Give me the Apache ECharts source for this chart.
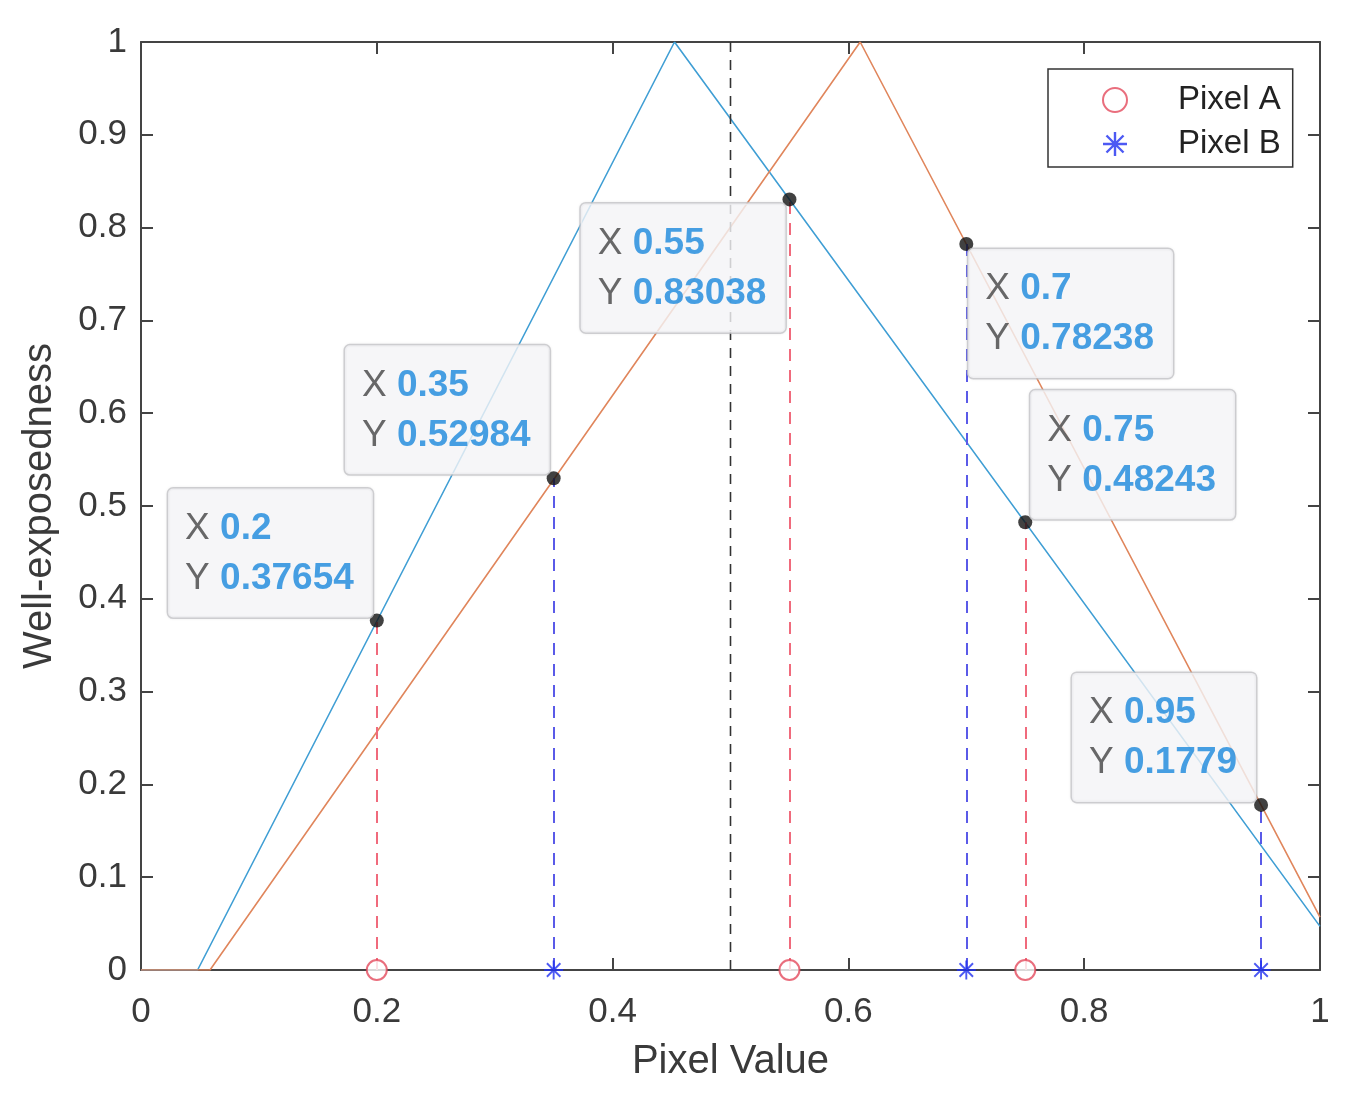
<!DOCTYPE html>
<html>
<head>
<meta charset="utf-8">
<script src="https://cdn.jsdelivr.net/npm/echarts@6/dist/echarts.min.js"></script>
<style>html,body{margin:0;padding:0;background:#fff}#c{width:1368px;height:1104px}</style>
</head>
<body>
<div id="c"></div>
<script>
// ---- data ----
const curveAX = [0, 0.048, 0.4525, 1];
const curveAY = [0, 0, 1, 0.047];
const curveBX = [0, 0.0585, 0.61, 1];
const curveBY = [0, 0, 1, 0.057];
const pixelAX = [0.2, 0.55, 0.75];
const pixelAY = [0.37654, 0.83038, 0.48243];
const pixelBX = [0.35, 0.7, 0.95];
const pixelBY = [0.52984, 0.78238, 0.1779];
const threshX = 0.5;
const legendNames = ['Pixel A', 'Pixel B'];

// ---- styling / placement (not data) ----
const FONT = '"Liberation Sans", Arial, Helvetica, sans-serif';
const tipPlace = {
  0.2:  {align: 'right', vAlign: 'bottom', off: [-4, -3]},
  0.35: {align: 'right', vAlign: 'bottom', off: [-4, -4]},
  0.55: {align: 'right', vAlign: 'top', off: [-4, 4]},
  0.7:  {align: 'left', vAlign: 'top', off: [2, 5]},
  0.75: {align: 'left', vAlign: 'bottom', off: [5, -3]},
  0.95: {align: 'right', vAlign: 'bottom', off: [-5, -3]}
};
const STAR = 'path://M9 0L11 0L11 20L9 20Z M0 9L20 9L20 11L0 11Z M2.2 3.6L3.6 2.2L17.8 16.4L16.4 17.8Z M16.4 2.2L17.8 3.6L3.6 17.8L2.2 16.4Z';

const zip = (xs, ys) => xs.map((x, i) => [x, ys[i]]);
const tipXs = pixelAX.concat(pixelBX);
const tipYs = pixelAY.concat(pixelBY);
const tipData = tipXs.map((x, i) => {
  const p = tipPlace[x];
  return {
    value: [x, tipYs[i]],
    label: {align: p.align, verticalAlign: p.vAlign, offset: p.off}
  };
});
const drops = (xs, ys) => xs.map((x, i) => [{coord: [x, 0]}, {coord: [x, ys[i]]}]);

const chart = echarts.init(document.getElementById('c'), null, {renderer: 'canvas'});
const axisCommon = {
  type: 'value', min: 0, max: 1,
  axisLine: {show: true, onZero: false, lineStyle: {color: '#444', width: 2}},
  axisTick: {show: true, inside: true, length: 12, lineStyle: {color: '#444', width: 2}},
  splitLine: {show: false}
};
chart.setOption({
  animation: false,
  backgroundColor: '#fff',
  grid: {left: 141, top: 42, right: 48, bottom: 134, containLabel: false},
  xAxis: [
    Object.assign({}, axisCommon, {
      position: 'bottom', interval: 0.2,
      name: 'Pixel Value', nameLocation: 'middle', nameGap: 72,
      nameTextStyle: {fontFamily: FONT, fontSize: 40, color: '#3a3a3a'},
      axisLabel: {fontFamily: FONT, fontSize: 35, color: '#3a3a3a', margin: 25}
    }),
    Object.assign({}, axisCommon, {position: 'top', interval: 0.2, axisLabel: {show: false}})
  ],
  yAxis: [
    Object.assign({}, axisCommon, {
      position: 'left', interval: 0.1,
      name: 'Well-exposedness', nameLocation: 'middle', nameGap: 81,
      nameTextStyle: {fontFamily: FONT, fontSize: 40, color: '#3a3a3a'},
      axisLabel: {fontFamily: FONT, fontSize: 35, color: '#3a3a3a', margin: 14}
    }),
    Object.assign({}, axisCommon, {position: 'right', interval: 0.1, axisLabel: {show: false}})
  ],
  legend: {
    data: legendNames,
    orient: 'vertical',
    left: 1048, top: 69,
    padding: [14, 12, 6, 54],
    itemWidth: 60, itemHeight: 24, itemGap: 10,
    backgroundColor: '#fff',
    borderColor: '#333', borderWidth: 1.5,
    textStyle: {fontFamily: FONT, fontSize: 33, color: '#222', lineHeight: 34, padding: [0, 0, 0, 28]}
  },
  series: [
    {
      name: 'curveA', type: 'line', data: zip(curveAX, curveAY),
      showSymbol: false, symbol: 'none', z: 2,
      lineStyle: {color: '#3f9ed4', width: 1.6}
    },
    {
      name: 'curveB', type: 'line', data: zip(curveBX, curveBY),
      showSymbol: false, symbol: 'none', z: 2,
      lineStyle: {color: '#e0865c', width: 1.6}
    },
    {
      name: 'threshold', type: 'line', data: [[threshX, 0], [threshX, 1]],
      showSymbol: false, symbol: 'none', z: 2,
      lineStyle: {color: '#333', width: 1.6, type: [10, 8]}
    },
    {
      name: 'Pixel A', type: 'scatter', data: pixelAX.map(x => [x, 0]),
      symbol: 'emptyCircle', symbolSize: 20, clip: false, z: 5,
      itemStyle: {color: '#e44a5c', borderWidth: 1.8},
      markLine: {
        silent: true, symbol: 'none', label: {show: false},
        lineStyle: {color: '#f06a7c', width: 2, type: [12, 9]},
        data: drops(pixelAX, pixelAY)
      }
    },
    {
      name: 'Pixel B', type: 'scatter', data: pixelBX.map(x => [x, 0]),
      symbol: STAR, symbolSize: 19, clip: false, z: 5,
      itemStyle: {color: '#1f2ff0'},
      markLine: {
        silent: true, symbol: 'none', label: {show: false},
        lineStyle: {color: '#5a5ae8', width: 2, type: [12, 9]},
        data: drops(pixelBX, pixelBY)
      }
    },
    {
      name: 'tips', type: 'scatter', data: tipData,
      symbol: 'circle', symbolSize: 14, clip: false, z: 10,
      itemStyle: {color: '#111'},
      label: {
        show: true, position: 'inside',
        formatter: p => '{k|X }{v|' + p.value[0] + '}\n{k|Y }{v|' + p.value[1] + '}',
        backgroundColor: '#f7f7fa',
        borderColor: '#c8c8cc', borderWidth: 1.5, borderRadius: 5,
        padding: [15, 19, 14, 17],
        shadowColor: 'rgba(0,0,0,0.08)', shadowBlur: 3,
        rich: {
          k: {fontFamily: FONT, fontSize: 37, color: '#444', lineHeight: 50, align: 'left'},
          v: {fontFamily: FONT, fontSize: 37, color: '#1a88dc', fontWeight: 'bold', lineHeight: 50, align: 'left'}
        }
      }
    }
  ]
});
</script>
</body>
</html>
